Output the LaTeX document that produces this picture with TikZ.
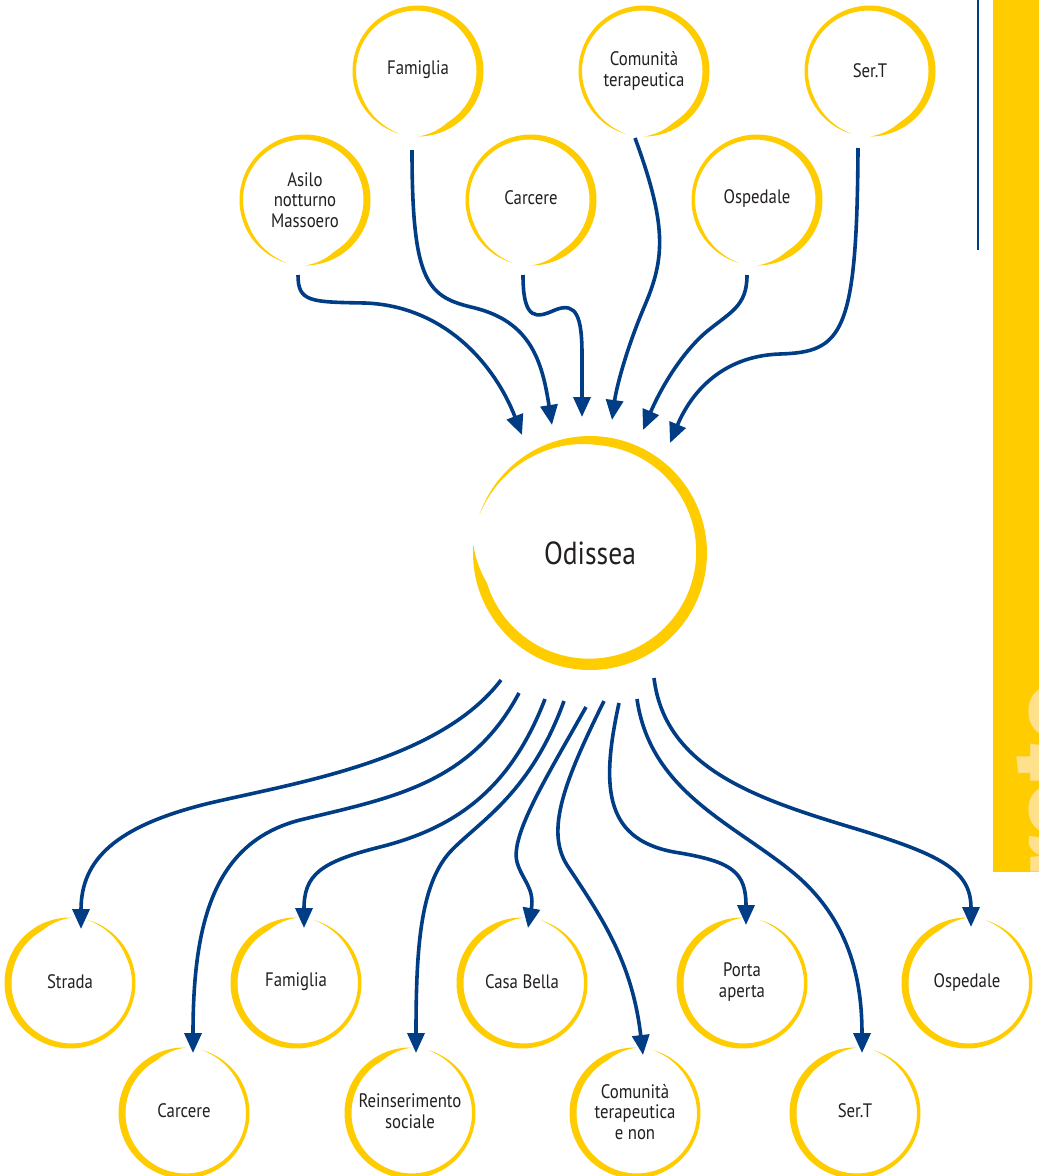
\documentclass[tikz,border=0pt]{standalone}
\usepackage{fontspec}
\setmainfont{PT Sans}[FakeStretch=0.86]
\newfontfamily\barfont{Fira Sans}
\usetikzlibrary{arrows.meta}
\definecolor{oblue}{HTML}{003D85}
\definecolor{oyel}{HTML}{FFCC00}
\definecolor{olight}{HTML}{FFE08C}
\definecolor{otext}{HTML}{231F20}
\def\cTb{50}
\newcommand\crescent[9]{%
  \begingroup
  \def\cA{#4}\def\cB{#5}\def\cT{#6}\def\cWa{#7}\def\cWb{#8}\def\cTa{#9}%
  \fill[ringfill] plot[domain=\cA:\cB,samples=120] ({#1+#3*cos(\x)},{#2-#3*sin(\x)})
    -- plot[domain=\cA:\cB,samples=120]
     ({#1+(#3-(\cWa+(\cWb-\cWa)*(1+cos(\cA+\cB-\x-\cT))/2)*min(1,(\cB-\x)/\cTa,(\x-\cA)/\cTb))*cos(\cA+\cB-\x)},
      {#2-(#3-(\cWa+(\cWb-\cWa)*(1+cos(\cA+\cB-\x-\cT))/2)*min(1,(\cB-\x)/\cTa,(\x-\cA)/\cTb))*sin(\cA+\cB-\x)})
    -- cycle;
  \endgroup}
\newcommand\topring[2]{\crescent{#1}{#2}{65.5}{270}{614}{355}{3.5}{7}{30}}
\newcommand\botring[2]{\crescent{#1}{#2}{65.5}{88}{434}{175}{3.5}{7}{30}}
\begin{document}
\begin{tikzpicture}[x=1pt,y=-1pt,
  lbl/.style={align=center, text=otext, font=\fontsize{19.5}{20.5}\selectfont, inner sep=0pt},
  big/.style={text=otext, font=\fontsize{32}{36}\selectfont, inner sep=0pt},
  conn/.style={draw=oblue, line width=3.6pt, -{Triangle[length=20pt,width=17pt]}},
  ringfill/.style={fill=oyel}]
\useasboundingbox (0,0) rectangle (1039,1176);
\fill[white] (0,0) rectangle (1039,1176);

% side bar
\fill[oyel] (993,0) rectangle (1039,872);
\begin{scope}
  \clip (993,0) rectangle (1039,872);
  \node[rotate=90, anchor=base east, inner sep=0pt, text=olight,
        font=\barfont\bfseries\fontsize{105}{105}\selectfont] (bartext) at (1086,681) {reto};
\end{scope}
\draw[oblue, line width=2.5pt] (978,0) -- (978,250);

% rings
\topring{418}{71}
\topring{644}{71}
\topring{870}{71}
\topring{305}{200}
\topring{531}{200}
\topring{757}{200}
\def\cTb{75}
\crescent{590}{553}{117}{176}{521}{300}{8.5}{11.5}{20}
\def\cTb{50}
\botring{70}{983}
\botring{296}{983}
\botring{522}{983}
\botring{742}{983}
\botring{967}{983}
\botring{184}{1113}
\botring{410}{1113}
\botring{635}{1113}
\botring{855}{1113}

% labels
\node[lbl] (famT) at (418,70) {Famiglia};
\node[lbl] (comT) at (644,71) {Comunità\\terapeutica};
\node[lbl] (sertT) at (870,71) {Ser.T};
\node[lbl] (asilo) at (305,200) {Asilo\\notturno\\Massoero};
\node[lbl] (carT) at (531,198) {Carcere};
\node[lbl] (ospT) at (757,199) {Ospedale};
\node[big] (odi) at (590,553) {Odissea};
\node[lbl] (strada) at (70,982) {Strada};
\node[lbl] (famB) at (296,982) {Famiglia};
\node[lbl] (casa) at (522,982) {Casa Bella};
\node[lbl] (porta) at (742,982) {Porta\\aperta};
\node[lbl] (ospB) at (967,982) {Ospedale};
\node[lbl] (carB) at (184,1111) {Carcere};
\node[lbl] (reins) at (410,1111) {Reinserimento\\sociale};
\node[lbl] (comB) at (635,1112) {Comunità\\terapeutica\\e non};
\node[lbl] (sertB) at (855,1111) {Ser.T};

% connector end points
\coordinate (asiloOut) at (298,275);
\coordinate (famTOut) at (412,150);
\coordinate (carTOut) at (523,275);
\coordinate (comTOut) at (635,138);
\coordinate (ospTOut) at (747,275);
\coordinate (sertTOut) at (858,148);
\coordinate (odiIn1) at (522,435);
\coordinate (odiIn2) at (552,425);
\coordinate (odiIn3) at (582,417);
\coordinate (odiIn4) at (612,420);
\coordinate (odiIn5) at (643,430);
\coordinate (odiIn6) at (670,443);
\coordinate (odiOut1) at (501,680);
\coordinate (odiOut2) at (519,693);
\coordinate (odiOut3) at (545,699);
\coordinate (odiOut4) at (564,701);
\coordinate (odiOut5) at (586,707);
\coordinate (odiOut6) at (604,701);
\coordinate (odiOut7) at (619,703);
\coordinate (odiOut8) at (637,699);
\coordinate (odiOut9) at (654,678);
\coordinate (stradaIn) at (81,929);
\coordinate (carBIn) at (193,1053);
\coordinate (famBIn) at (304,928);
\coordinate (reinsIn) at (416,1053);
\coordinate (casaIn) at (528,928);
\coordinate (comBIn) at (643,1055);
\coordinate (portaIn) at (746,925);
\coordinate (sertBIn) at (862,1053);
\coordinate (ospBIn) at (971,927);

% incoming connectors
\draw[conn] (asiloOut) .. controls (298,302) and (310,302) .. (365,303) .. controls (445,306) and (495,365) .. (odiIn1);
\draw[conn] (famTOut) .. controls (412,285) and (428,297) .. (475,308) .. controls (530,322) and (542,360) .. (odiIn2);
\draw[conn] (carTOut) .. controls (523,322) and (537,318) .. (555,310) .. controls (577,301) and (582,318) .. (582,355) -- (odiIn3);
\draw[conn] (comTOut) .. controls (667,225) and (665,258) .. (645,305) .. controls (625,352) and (616,390) .. (odiIn4);
\draw[conn] (ospTOut) .. controls (747,307) and (730,312) .. (705,333) .. controls (680,355) and (660,390) .. (odiIn5);
\draw[conn] (sertTOut) .. controls (857,335) and (842,352) .. (780,354) .. controls (720,356) and (690,395) .. (odiIn6);

% outgoing connectors
\draw[conn] (odiOut1) .. controls (440,760) and (300,782) .. (210,803) .. controls (115,826) and (81,860) .. (stradaIn);
\draw[conn] (odiOut2) .. controls (470,785) and (390,798) .. (300,820) .. controls (215,842) and (193,920) .. (carBIn);
\draw[conn] (odiOut3) .. controls (510,790) and (455,828) .. (380,847) .. controls (320,862) and (304,875) .. (famBIn);
\draw[conn] (odiOut4) .. controls (530,795) and (478,822) .. (450,852) .. controls (420,885) and (416,950) .. (reinsIn);
\draw[conn] (odiOut5) .. controls (548,775) and (510,835) .. (517,862) .. controls (522,880) and (535,888) .. (casaIn);
\draw[conn] (odiOut6) .. controls (565,780) and (545,830) .. (567,865) .. controls (600,915) and (632,960) .. (comBIn);
\draw[conn] (odiOut7) .. controls (600,790) and (605,842) .. (680,853) .. controls (732,862) and (746,872) .. (portaIn);
\draw[conn] (odiOut8) .. controls (650,790) and (730,822) .. (790,870) .. controls (850,918) and (862,980) .. (sertBIn);
\draw[conn] (odiOut9) .. controls (665,770) and (760,800) .. (860,830) .. controls (940,855) and (971,870) .. (ospBIn);
\end{tikzpicture}
\end{document}
